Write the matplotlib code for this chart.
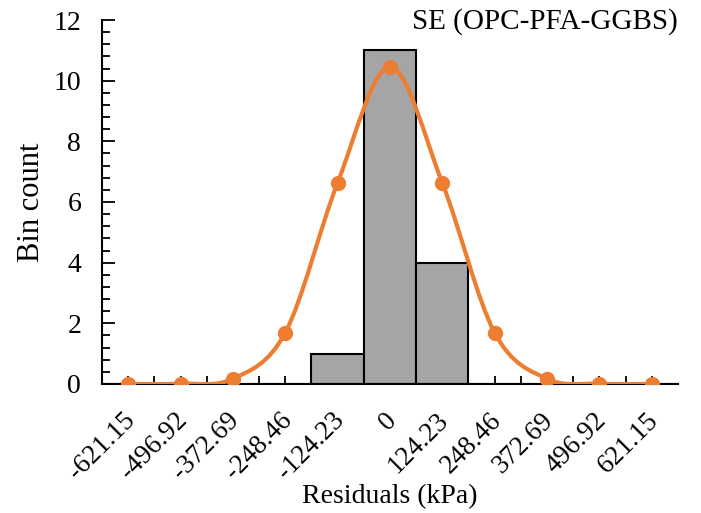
import numpy as np
import matplotlib
matplotlib.use('Agg')
import matplotlib.pyplot as plt
import matplotlib.transforms as mtransforms
from matplotlib.path import Path
from matplotlib.patches import PathPatch
from matplotlib.ticker import MultipleLocator

plt.rcParams['font.family'] = ['Liberation Serif', 'DejaVu Serif']

# histogram of residuals and fitted normal curve
bin_width = 124.23
bin_centres = [-621.15, -496.92, -372.69, -248.46, -124.23, 0,
               124.23, 248.46, 372.69, 496.92, 621.15]
tick_labels = ['-621.15', '-496.92', '-372.69', '-248.46', '-124.23', '0',
               '124.23', '248.46', '372.69', '496.92', '621.15']
bin_counts = [0, 0, 0, 0, 1, 11, 4, 0, 0, 0, 0]
normal_fit = [0.0, 0.01, 0.17, 1.69, 6.63, 10.45, 6.63, 1.69, 0.17, 0.01, 0.0]

grey = '#A5A5A5'
orange = '#ED7D31'


def smooth_path(x, y):
    # cardinal spline through the points, drawn as cubic bezier pieces
    pts = np.column_stack([x, y]).astype(float)
    verts = [pts[0]]
    codes = [Path.MOVETO]
    n = len(pts)
    for i in range(n - 1):
        p0 = pts[max(i - 1, 0)]
        p1 = pts[i]
        p2 = pts[i + 1]
        p3 = pts[min(i + 2, n - 1)]
        c1 = p1 + (p2 - p0) / 6.0
        c2 = p2 - (p3 - p1) / 6.0
        verts += [c1, c2, p2]
        codes += [Path.CURVE4] * 3
    return Path(verts, codes)


fig = plt.figure(figsize=(7.01, 5.13), dpi=100)
ax = fig.add_axes([0.1455, 0.2515, 0.8215, 0.7095])

ax.bar(bin_centres, bin_counts, width=bin_width, color=grey,
       edgecolor='black', linewidth=1.5, zorder=2)

curve = PathPatch(smooth_path(bin_centres, normal_fit), facecolor='none',
                  edgecolor=orange, linewidth=3, zorder=3)
ax.add_patch(curve)
ax.plot(bin_centres, normal_fit, linestyle='none', marker='o',
        markersize=10, color=orange, zorder=4)

half = bin_width / 2
ax.set_xlim(bin_centres[0] - half, bin_centres[-1] + half)
ax.set_ylim(0, 12)

ax.set_xticks(bin_centres)
ax.set_xticklabels(tick_labels, rotation=45, ha='right', va='top',
                   rotation_mode='anchor')
ax.set_xticks(np.array(bin_centres[:-1]) + half, minor=True)
ax.yaxis.set_major_locator(MultipleLocator(2))
ax.yaxis.set_minor_locator(MultipleLocator(0.4))

ax.tick_params(axis='x', which='both', direction='in', length=6, width=1.3,
               labelsize=19.5, pad=17)
ax.tick_params(axis='y', which='major', direction='in', length=9, width=1.3,
               labelsize=20, pad=15)
ax.tick_params(axis='y', which='minor', direction='in', length=6, width=1.3)

# nudge the slanted labels a little to the left
shift = mtransforms.ScaledTranslation(-6 / 100, 0, fig.dpi_scale_trans)
for lbl in ax.get_xticklabels():
    lbl.set_transform(lbl.get_transform() + shift)

ax.spines['top'].set_visible(False)
ax.spines['right'].set_visible(False)
ax.spines['left'].set_linewidth(1.5)
ax.spines['bottom'].set_linewidth(1.5)

ax.set_xlabel('Residuals (kPa)', fontsize=20, labelpad=0)
ax.set_ylabel('Bin count', fontsize=22, labelpad=5)
ax.text(1.0, 0.995, 'SE (OPC-PFA-GGBS)', transform=ax.transAxes,
        ha='right', va='center', fontsize=21)

fig.savefig('out.png', dpi=100)
